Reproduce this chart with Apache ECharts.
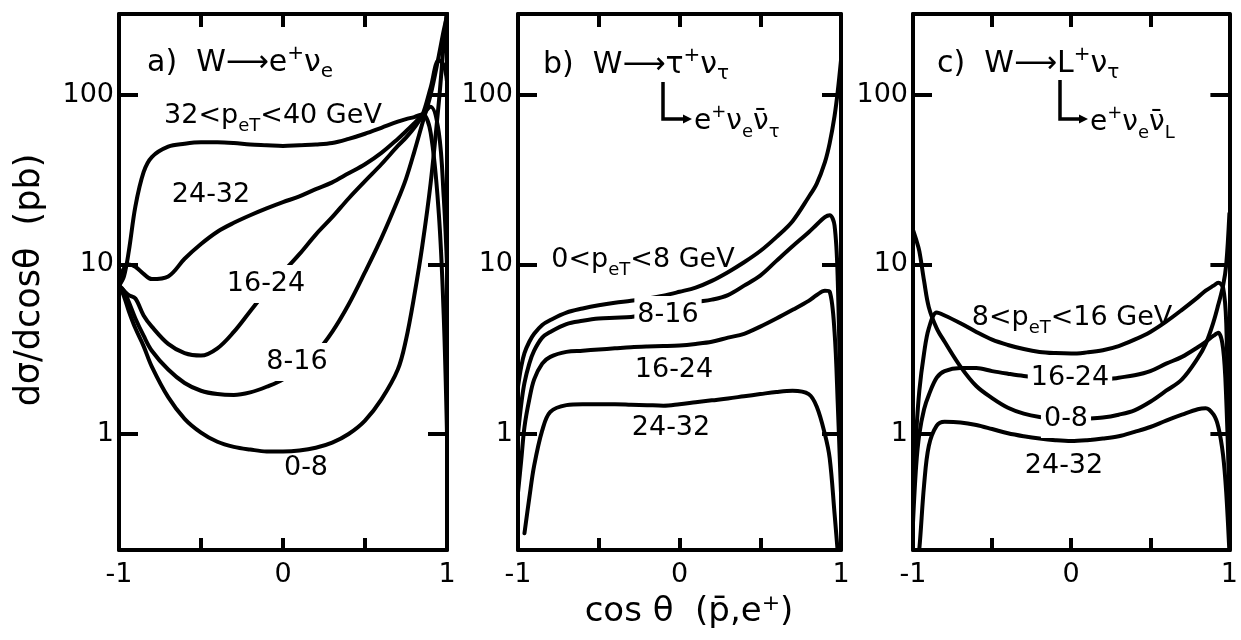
<!DOCTYPE html>
<html><head><meta charset="utf-8">
<script src="https://cdn.jsdelivr.net/npm/echarts@6/dist/echarts.min.js"></script>
<style>html,body{margin:0;padding:0;background:#fff}#c{width:1241px;height:640px}</style>
</head><body><div id="c"></div>
<script>
// ---- axis ticks / labels ----
const xLabelValues = [-1, 0, 1];
const xTickValues = [-0.5, 0, 0.5];
const yTickValues = [1, 10, 100];

// ---- panel a) W -> e+ nu_e ----
const xsA = [-1, -0.97, -0.94, -0.9, -0.85, -0.8, -0.7, -0.6, -0.5, -0.4, -0.3, -0.2, -0.1, 0, 0.1, 0.2, 0.3, 0.4, 0.5, 0.6, 0.7, 0.75, 0.8, 0.85, 0.9, 0.95, 0.98, 1];
const a_32_40 = [7.5, 8.5, 12, 22, 35, 43, 49.5, 51.5, 52.5, 52.5, 52, 51, 50.5, 50, 50.5, 51, 52, 55, 59, 64, 69.5, 72, 74, 77, 60, 20, 5, 1.0];
const a_24_32 = [8, 9.5, 10, 9.7, 8.8, 8.2, 8.5, 10.8, 13.2, 15.6, 17.6, 19.5, 21.4, 23.3, 25.2, 27.8, 30.5, 34.5, 39, 45.5, 55, 61, 68, 76, 85, 60, 25, 10];
const a_16_24 = [7.5, 7, 6.6, 6.3, 5.0, 4.3, 3.4, 3.0, 2.9, 3.2, 4.0, 5.3, 7.0, 9.0, 11.5, 15, 19, 24.5, 31, 39, 50, 56, 64, 76, 110, 160, 150, 120];
const a_8_16 = [7.5, 7, 6, 4.8, 3.8, 3.1, 2.4, 2.0, 1.8, 1.72, 1.7, 1.76, 1.9, 2.1, 2.5, 3.0, 4.0, 5.8, 9.0, 14.3, 24, 32, 46, 68, 100, 170, 240, 290];
const a_0_8 = [7.5, 6.5, 5.3, 4.2, 3.3, 2.5, 1.65, 1.23, 1.02, 0.9, 0.84, 0.81, 0.79, 0.79, 0.8, 0.83, 0.89, 1.0, 1.2, 1.6, 2.4, 3.6, 6.5, 13, 30, 90, 200, 320];

// ---- panels b) and c) share the x sampling ----
const xsBC = [-1, -0.98, -0.96, -0.93, -0.9, -0.85, -0.8, -0.7, -0.6, -0.5, -0.4, -0.3, -0.2, -0.1, 0, 0.1, 0.2, 0.3, 0.4, 0.5, 0.6, 0.7, 0.8, 0.85, 0.9, 0.93, 0.96, 0.98, 1];
// b) W -> tau+ nu_tau -> e+ nu_e nubar_tau
const b_0_8 = [1.9, 2.5, 3.0, 3.5, 3.9, 4.4, 4.7, 5.2, 5.5, 5.75, 5.95, 6.1, 6.3, 6.55, 6.9, 7.3, 8.0, 9.0, 10.3, 12, 14.5, 18, 25, 30, 40, 52, 75, 105, 160];
const b_8_16 = [1.0, 1.5, 2.0, 2.6, 3.1, 3.7, 4.0, 4.45, 4.65, 4.8, 4.85, 4.9, 5.1, 5.4, 5.7, 6.0, 6.2, 6.6, 7.5, 8.6, 10.5, 12.8, 15.5, 17.2, 19, 19.5, 17, 8, 0.9];
const b_16_24 = [0.45, 0.7, 1.1, 1.6, 2.1, 2.6, 2.85, 3.05, 3.1, 3.15, 3.2, 3.25, 3.28, 3.3, 3.33, 3.4, 3.5, 3.7, 3.9, 4.3, 4.8, 5.4, 6.1, 6.6, 7.0, 6.9, 4.0, 1.5, 0.45];
const b_24_32 = [null, null, 0.26, 0.42, 0.65, 1.05, 1.35, 1.48, 1.5, 1.5, 1.5, 1.49, 1.48, 1.47, 1.5, 1.54, 1.58, 1.62, 1.67, 1.72, 1.77, 1.8, 1.72, 1.45, 1.0, 0.72, 0.34, 0.2, null];
// c) W -> L+ nu_tau -> e+ nu_e nubar_L
const c_0_8 = [16, 14, 12, 8.0, 5.6, 4.2, 3.5, 2.5, 1.92, 1.63, 1.43, 1.32, 1.26, 1.23, 1.22, 1.23, 1.25, 1.3, 1.38, 1.55, 1.8, 2.1, 2.8, 3.4, 4.6, 5.8, 7.5, 10, 20];
const c_8_16 = [0.45, 1.0, 1.8, 3.0, 4.2, 5.2, 5.0, 4.5, 4.0, 3.6, 3.35, 3.17, 3.05, 3.0, 2.98, 3.03, 3.12, 3.3, 3.6, 4.0, 4.6, 5.4, 6.4, 7.0, 7.5, 7.8, 7.3, 4.5, 0.5];
const c_16_24 = [0.3, 0.65, 1.0, 1.4, 1.7, 2.15, 2.35, 2.45, 2.45, 2.35, 2.27, 2.2, 2.15, 2.1, 2.05, 2.05, 2.08, 2.15, 2.22, 2.35, 2.6, 2.85, 3.25, 3.5, 3.8, 3.95, 3.2, 1.6, 0.4];
const c_24_32 = [null, 0.15, 0.21, 0.5, 0.85, 1.12, 1.18, 1.17, 1.13, 1.07, 1.01, 0.97, 0.94, 0.92, 0.91, 0.92, 0.94, 0.97, 1.03, 1.1, 1.2, 1.3, 1.4, 1.42, 1.3, 1.1, 0.75, 0.45, 0.2];

const FONT = 'DejaVu Sans';
const INK = '#000';
const LW = 4;

function pts(xs, ys) {
  const out = [];
  for (let i = 0; i < xs.length; i++) if (ys[i] != null) out.push([xs[i], ys[i]]);
  return out;
}

const grids = [
  {left: 119, top: 14, width: 328, height: 536},
  {left: 518, top: 14, width: 323, height: 536},
  {left: 913, top: 14, width: 324, height: 536}
];

const xAxes = [], yAxes = [];
grids.forEach((g, i) => {
  const line = {show: true, onZero: false, lineStyle: {color: INK, width: LW}};
  xAxes.push({
    gridIndex: i, type: 'value', position: 'bottom', min: -1, max: 1,
    axisLine: line,
    axisTick: {inside: true, length: 12, lineStyle: {color: INK, width: LW}, customValues: xTickValues},
    axisLabel: {customValues: xLabelValues, color: INK, fontSize: 27, fontFamily: FONT, margin: 11,
      formatter: v => (Math.round(v) < 0 ? '-1' : String(Math.round(v)))},
    splitLine: {show: false}
  });
  xAxes.push({
    gridIndex: i, type: 'value', position: 'top', min: -1, max: 1,
    axisLine: line,
    axisTick: {inside: true, length: 13, lineStyle: {color: INK, width: LW}, customValues: xTickValues},
    axisLabel: {show: false}, splitLine: {show: false}
  });
  yAxes.push({
    gridIndex: i, type: 'log', logBase: 10, position: 'left', min: 0.207, max: 300,
    axisLine: line,
    axisTick: {inside: true, length: 19, lineStyle: {color: INK, width: LW}, customValues: yTickValues},
    axisLabel: {customValues: yTickValues, color: INK, fontSize: 27, fontFamily: FONT, margin: 5,
      formatter: v => String(Math.round(v))},
    splitLine: {show: false}
  });
  yAxes.push({
    gridIndex: i, type: 'log', logBase: 10, position: 'right', min: 0.207, max: 300,
    axisLine: line,
    axisTick: {inside: true, length: 19, lineStyle: {color: INK, width: LW}, customValues: yTickValues},
    axisLabel: {show: false}, splitLine: {show: false}
  });
});

function curve(name, panel, xs, ys) {
  return {
    name, type: 'line', xAxisIndex: panel * 2, yAxisIndex: panel * 2,
    data: pts(xs, ys), showSymbol: false, symbol: 'none', smooth: 0.35, clip: true,
    lineStyle: {color: INK, width: LW, cap: 'round', join: 'round'}, z: 3, silent: true
  };
}

const series = [
  curve('a 32-40', 0, xsA, a_32_40),
  curve('a 24-32', 0, xsA, a_24_32),
  curve('a 16-24', 0, xsA, a_16_24),
  curve('a 8-16', 0, xsA, a_8_16),
  curve('a 0-8', 0, xsA, a_0_8),
  curve('b 0-8', 1, xsBC, b_0_8),
  curve('b 8-16', 1, xsBC, b_8_16),
  curve('b 16-24', 1, xsBC, b_16_24),
  curve('b 24-32', 1, xsBC, b_24_32),
  curve('c 0-8', 2, xsBC, c_0_8),
  curve('c 8-16', 2, xsBC, c_8_16),
  curve('c 16-24', 2, xsBC, c_16_24),
  curve('c 24-32', 2, xsBC, c_24_32)
];

function rich(sz) {
  return {
    sup: {fontSize: sz, lineHeight: 16, verticalAlign: 'top', fontFamily: FONT, fill: INK, color: INK},
    sub: {fontSize: sz, lineHeight: 16, verticalAlign: 'bottom', fontFamily: FONT, fill: INK, color: INK}
  };
}

function txt(x, y, text, o) {
  o = o || {};
  const size = o.size || 27;
  const st = {
    text, fill: INK, fontFamily: FONT, fontSize: size, lineHeight: 38,
    align: o.align || 'center', textAlign: o.align || 'center',
    verticalAlign: 'middle', textVerticalAlign: 'middle', rich: rich(Math.round(size * 0.65))
  };
  if (o.bg) { st.backgroundColor = '#fff'; st.padding = [0, 3]; }
  const el = {type: 'text', x, y, z: 100, style: st, silent: true};
  if (o.rot) el.rotation = o.rot;
  return el;
}

function bracket(x, y1, y2, x2) {
  return [
    {type: 'polyline', z: 100, silent: true, shape: {points: [[x, y1], [x, y2], [x2, y2]]},
     style: {stroke: INK, lineWidth: 3.5, fill: null}},
    {type: 'polygon', z: 100, silent: true, shape: {points: [[x2 - 2, y2 - 4.5], [x2 + 7, y2], [x2 - 2, y2 + 4.5]]},
     style: {fill: INK}}
  ];
}

const graphics = [
  // panel a
  txt(147, 63, 'a)  W\u27F6e{sup|+}\u03bd{sub|e}', {align: 'left', size: 30}),
  txt(273, 116, '32<p{sub|eT}<40 GeV'),
  txt(211, 195, '24-32'),
  txt(266, 284, '16-24', {bg: true}),
  txt(297, 362, '8-16', {bg: true}),
  txt(306, 468, '0-8'),
  // panel b
  txt(543, 65, 'b)  W\u27F6\u03c4{sup|+}\u03bd{sub|\u03c4}', {align: 'left', size: 30}),
  ...bracket(663, 82, 119, 685),
  txt(694, 122, 'e{sup|+}\u03bd{sub|e}\u03bd\u0304{sub|\u03c4}', {align: 'left', size: 28}),
  txt(643, 260, '0<p{sub|eT}<8 GeV'),
  txt(668, 315, '8-16', {bg: true}),
  txt(674, 370, '16-24'),
  txt(671, 428, '24-32'),
  // panel c
  txt(937, 64, 'c)  W\u27F6L{sup|+}\u03bd{sub|\u03c4}', {align: 'left', size: 30}),
  ...bracket(1060, 80, 119, 1081),
  txt(1090, 123, 'e{sup|+}\u03bd{sub|e}\u03bd\u0304{sub|L}', {align: 'left', size: 28}),
  txt(1072, 318, '8<p{sub|eT}<16 GeV'),
  txt(1070, 378, '16-24', {bg: true}),
  txt(1066, 419, '0-8', {bg: true}),
  txt(1064, 466, '24-32'),
  // axis titles
  txt(30, 280, 'd\u03c3/dcos\u03b8  (pb)', {size: 35, rot: Math.PI / 2}),
  txt(689, 612, 'cos \u03b8  (p\u0304,e{sup|+})', {size: 34})
];

const chart = echarts.init(document.getElementById('c'), null, {renderer: 'canvas'});
chart.setOption({
  backgroundColor: '#fff',
  animation: false,
  grid: grids,
  xAxis: xAxes,
  yAxis: yAxes,
  series,
  graphic: {elements: graphics}
});
</script>
</body></html>
